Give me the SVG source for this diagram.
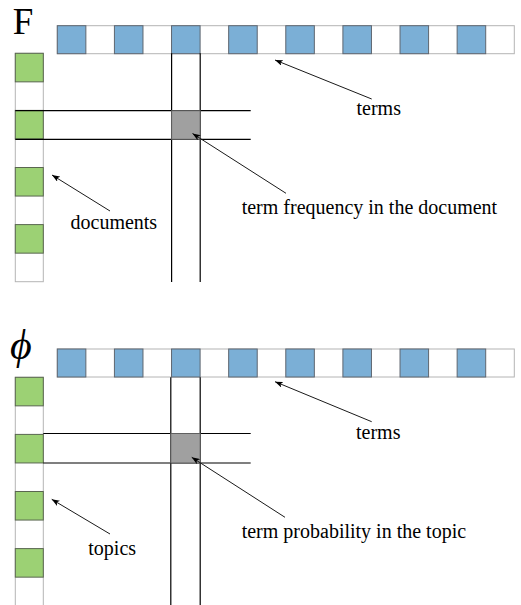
<svg xmlns="http://www.w3.org/2000/svg" xmlns:xlink="http://www.w3.org/1999/xlink" width="521" height="605" viewBox="0 0 521 605">
  <style>
    .bg { fill: #ffffff; stroke: #b4b4b4; stroke-width: 1; }
    .blue { fill: #7bafd6; stroke: #5f6670; stroke-width: 1; }
    .green { fill: #9cd174; stroke: #5a6650; stroke-width: 1; }
    .cell { fill: #a0a0a0; stroke: #606060; stroke-width: 1; }
    .grid { stroke: #000000; stroke-width: 1.2; fill: none; }
    .conn { stroke: #1a1a1a; stroke-width: 1; fill: none; marker-start: url(#ah); }
    .lbl { font-family: "Liberation Serif", "Times New Roman", serif; font-size: 20px; fill: #000000; }
    .big { font-family: "Liberation Serif", "Times New Roman", serif; fill: #000000; }
  </style>
  <defs>
    <marker id="ah" viewBox="0 0 8 6" refX="0" refY="3" markerWidth="8" markerHeight="6" orient="auto" markerUnits="userSpaceOnUse">
      <path d="M0,3 L8,0 L6,3 L8,6 Z" fill="#000000"/>
    </marker>
    <g id="termrow">
      <rect class="bg" x="0" y="0" width="457" height="28"/>
      <rect class="blue" x="0" y="0" width="28.56" height="28"/>
      <rect class="blue" x="57.12" y="0" width="28.56" height="28"/>
      <rect class="blue" x="114.24" y="0" width="28.56" height="28"/>
      <rect class="blue" x="171.36" y="0" width="28.56" height="28"/>
      <rect class="blue" x="228.48" y="0" width="28.56" height="28"/>
      <rect class="blue" x="285.6" y="0" width="28.56" height="28"/>
      <rect class="blue" x="342.72" y="0" width="28.56" height="28"/>
      <rect class="blue" x="399.84" y="0" width="28.56" height="28"/>
    </g>
    <g id="doccol">
      <rect class="bg" x="0" y="0" width="28" height="228.4"/>
      <rect class="green" x="0" y="0" width="28" height="28.55"/>
      <rect class="green" x="0" y="57.1" width="28" height="28.55"/>
      <rect class="green" x="0" y="114.2" width="28" height="28.55"/>
      <rect class="green" x="0" y="171.3" width="28" height="28.55"/>
    </g>
  </defs>

  <!-- Top panel: F -->
  <g id="F-label">
    <text class="big" x="12.8" y="33.5" font-size="37">F</text>
  </g>
  <g id="F-terms-row">
    <use xlink:href="#termrow" x="57.3" y="25.7"/>
  </g>
  <g id="F-docs-col">
    <use xlink:href="#doccol" x="15.3" y="53.3"/>
  </g>
  <g id="F-grid">
    <line class="grid" x1="171.6" y1="53.3" x2="171.6" y2="282"/>
    <line class="grid" x1="200.2" y1="53.3" x2="200.2" y2="282"/>
    <line class="grid" x1="15.3" y1="110.7" x2="250.7" y2="110.7"/>
    <line class="grid" x1="15.3" y1="139.3" x2="250.7" y2="139.3"/>
  </g>
  <g id="F-cell">
    <rect class="cell" x="171.6" y="110.7" width="28.6" height="28.6"/>
  </g>
  <g id="F-terms-label"><text class="lbl" x="356.5" y="115">terms</text></g>
  <g id="F-docs-label"><text class="lbl" x="70.5" y="229.3">documents</text></g>
  <g id="F-freq-label"><text class="lbl" x="241.7" y="214">term frequency in the document</text></g>

  <!-- Bottom panel: phi -->
  <g id="phi-label">
    <text class="big" x="10" y="359" font-size="42" font-style="italic">ϕ</text>
  </g>
  <g id="phi-terms-row">
    <use xlink:href="#termrow" x="57.3" y="349"/>
  </g>
  <g id="phi-topics-col">
    <use xlink:href="#doccol" x="15.3" y="377.3"/>
  </g>
  <g id="phi-grid">
    <line class="grid" x1="170.8" y1="377.3" x2="170.8" y2="605"/>
    <line class="grid" x1="200.2" y1="377.3" x2="200.2" y2="605"/>
    <line class="grid" x1="43.3" y1="433.5" x2="250.7" y2="433.5"/>
    <line class="grid" x1="43.3" y1="463" x2="250.7" y2="463"/>
  </g>
  <g id="phi-cell">
    <rect class="cell" x="170.8" y="433.5" width="29.4" height="29.5"/>
  </g>
  <g id="phi-terms-label"><text class="lbl" x="356" y="438.5">terms</text></g>
  <g id="phi-topics-label"><text class="lbl" x="88.3" y="555">topics</text></g>
  <g id="phi-prob-label"><text class="lbl" x="241.7" y="538.3">term probability in the topic</text></g>

  <!-- Connectors -->
  <g id="connectors">
    <line class="conn" x1="275" y1="60" x2="371.7" y2="99"/>
    <line class="conn" x1="52" y1="175" x2="110" y2="211"/>
    <line class="conn" x1="192.5" y1="133.5" x2="286" y2="193.3"/>
    <line class="conn" x1="275" y1="381.7" x2="371.7" y2="421.7"/>
    <line class="conn" x1="51.7" y1="499.3" x2="110" y2="534"/>
    <line class="conn" x1="191.7" y1="457.3" x2="285" y2="517.3"/>
  </g>
</svg>
